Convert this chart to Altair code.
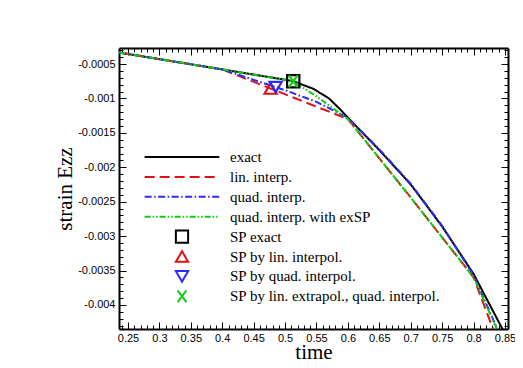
import altair as alt
import pandas as pd

# ---------------- data ----------------
labels = [
    "exact",
    "lin. interp.",
    "quad. interp.",
    "quad. interp. with exSP",
    "SP exact",
    "SP by lin. interpol.",
    "SP by quad. interpol.",
    "SP by lin. extrapol., quad. interpol.",
]

t_exact = [0.236, 0.30, 0.40, 0.45, 0.50, 0.513, 0.545, 0.57, 0.59, 0.60, 0.65, 0.70, 0.75, 0.80, 0.85]
e_exact = [-0.000333, -0.000429, -0.000578, -0.000653, -0.000728, -0.00075, -0.00086, -0.00100,
           -0.00118, -0.00128, -0.00175, -0.00225, -0.00286, -0.00355, -0.00442]

t_lin = [0.236, 0.40, 0.60, 0.70, 0.80, 0.85]
e_lin = [-0.000333, -0.000578, -0.00130, -0.00244, -0.00360, -0.00481]

t_quad = [0.236, 0.40, 0.45, 0.50, 0.55, 0.60, 0.65, 0.70, 0.75, 0.80, 0.85]
e_quad = [-0.000333, -0.000578, -0.00073, -0.00088, -0.00105, -0.00128, -0.00174, -0.00224,
          -0.00285, -0.00357, -0.00460]

t_exsp = [0.236, 0.40, 0.513, 0.55, 0.60, 0.70, 0.80, 0.85]
e_exsp = [-0.000333, -0.000578, -0.00075, -0.00097, -0.00130, -0.00244, -0.00360, -0.00461]

sp_t = [0.513, 0.477, 0.485, 0.513]
sp_e = [-0.00075, -0.000855, -0.000835, -0.00075]

x_major = [0.25, 0.3, 0.35, 0.4, 0.45, 0.5, 0.55, 0.6, 0.65, 0.7, 0.75, 0.8, 0.85]
y_major = [-0.0005, -0.001, -0.0015, -0.002, -0.0025, -0.003, -0.0035, -0.004]
x_minor = [round(0.24 + 0.01 * i, 2) for i in range(62)]
y_minor = [round(-0.0003 - 0.0001 * i, 4) for i in range(41)]

# ---------------- tables ----------------
rows = []
for lab, ts, es in zip(labels[:4], [t_exact, t_lin, t_quad, t_exsp], [e_exact, e_lin, e_quad, e_exsp]):
    for i, (t, e) in enumerate(zip(ts, es)):
        rows.append({"series": lab, "t": t, "e": e, "i": i})
lines_df = pd.DataFrame(rows)
pts_df = pd.DataFrame({"series": labels[4:], "t": sp_t, "e": sp_e})

# ---------------- styles ----------------
W, H = 389, 281
colors = ["#000000", "#e01010", "#2a2aff", "#10cc10", "#000000", "#e01010", "#2a2aff", "#10cc10"]
dashes = [[1, 0], [10, 5], [7, 2.5, 1.5, 2.5], [6, 2, 1.5, 2, 1.5, 2], [1, 0], [1, 0], [1, 0], [1, 0]]
LP = "M-6.1,0L6.1,0"
shapes = [LP, LP, LP, LP, "square", "triangle-up", "triangle-down",
          "M-0.72,-0.95L0.72,0.95M-0.72,0.95L0.72,-0.95"]

xs = alt.Scale(domain=[0.2357, 0.8548], nice=False, zero=False)
ys = alt.Scale(domain=[-0.00435, -0.000267], nice=False, zero=False)

leg = alt.Legend(title=None)
col = alt.Color("series:N", scale=alt.Scale(domain=labels, range=colors), legend=leg)
dash = alt.StrokeDash("series:N", scale=alt.Scale(domain=labels, range=dashes), legend=leg)
shp = alt.Shape("series:N", scale=alt.Scale(domain=labels, range=shapes), legend=leg)

tick_common = dict(labels=False, title=None, grid=False, tickColor="black", tickWidth=1)

ax_x_lab = alt.Axis(orient="bottom", values=x_major, labelExpr="'' + datum.value", ticks=False,
                    domain=True, domainColor="black", domainWidth=2, labelFont="Liberation Sans",
                    labelFontSize=11, labelColor="black", labelPadding=3, title="time",
                    titleFont="Liberation Serif", titleFontSize=21, titleFontWeight="normal",
                    titleColor="black", titleBaseline="alphabetic", titleY=29.5, titleX=W / 2,
                    grid=False)
ax_y_lab = alt.Axis(orient="left", values=y_major, labelExpr="'' + datum.value", ticks=False,
                    domain=True, domainColor="black", domainWidth=2, labelFont="Liberation Sans",
                    labelFontSize=11, labelColor="black", labelPadding=4, title="strain Ezz",
                    titleFont="Liberation Serif", titleFontSize=21, titleFontWeight="normal",
                    titleColor="black", titleBaseline="alphabetic", titleX=-48, titleY=H / 2,
                    titleAngle=270, grid=False)

lines = alt.Chart(lines_df).mark_line(strokeWidth=2, clip=True).encode(
    x=alt.X("t:Q", scale=xs, axis=ax_x_lab),
    y=alt.Y("e:Q", scale=ys, axis=ax_y_lab),
    color=col,
    strokeDash=dash,
    order="i:Q",
)

points = alt.Chart(pts_df).mark_point(size=150, filled=False, strokeWidth=2.2, opacity=1, clip=True).encode(
    x=alt.X("t:Q", scale=xs, axis=alt.Axis(orient="top", offset=-H, values=x_major, tickSize=7,
                                           domain=False, **tick_common)),
    y=alt.Y("e:Q", scale=ys, axis=alt.Axis(orient="right", offset=-W, values=y_major, tickSize=7,
                                           domain=False, **tick_common)),
    color=col,
    shape=shp,
    strokeDash=dash,
)

def dummy(xaxis, yaxis):
    return alt.Chart(pts_df).mark_point(opacity=0).encode(
        x=alt.X("t:Q", scale=xs, axis=xaxis),
        y=alt.Y("e:Q", scale=ys, axis=yaxis),
    )

d1 = dummy(alt.Axis(orient="top", offset=-H, values=x_minor, tickSize=4, domain=False, **tick_common),
           alt.Axis(orient="right", offset=-W, values=y_minor, tickSize=4, domain=False, **tick_common))
d2 = dummy(alt.Axis(orient="bottom", offset=-H, values=x_major, tickSize=7, domain=True,
                    domainColor="black", domainWidth=2, **tick_common),
           alt.Axis(orient="left", offset=-W, values=y_major, tickSize=7, domain=True,
                    domainColor="black", domainWidth=2, **tick_common))
d3 = dummy(alt.Axis(orient="bottom", offset=-H, values=x_minor, tickSize=4, domain=False, **tick_common),
           alt.Axis(orient="left", offset=-W, values=y_minor, tickSize=4, domain=False, **tick_common))

chart = alt.layer(lines, points, d1, d2, d3).resolve_axis(
    x="independent", y="independent"
).properties(
    width=W, height=H,
    autosize=alt.AutoSizeParams(type="none"),
    padding={"left": 111, "top": 40, "right": 7, "bottom": 31},
    background="white",
).configure_view(stroke=None).configure_legend(
    orient="none", legendX=55.5, legendY=101.5, padding=0, gridAlign="all",
    labelFont="Liberation Serif", labelFontSize=15, labelColor="black", labelLimit=400,
    labelOffset=40.5, rowPadding=-1.1, symbolSize=150, symbolStrokeWidth=2,
)

chart.save("out.html", embed_options={"renderer": "svg", "actions": False})
